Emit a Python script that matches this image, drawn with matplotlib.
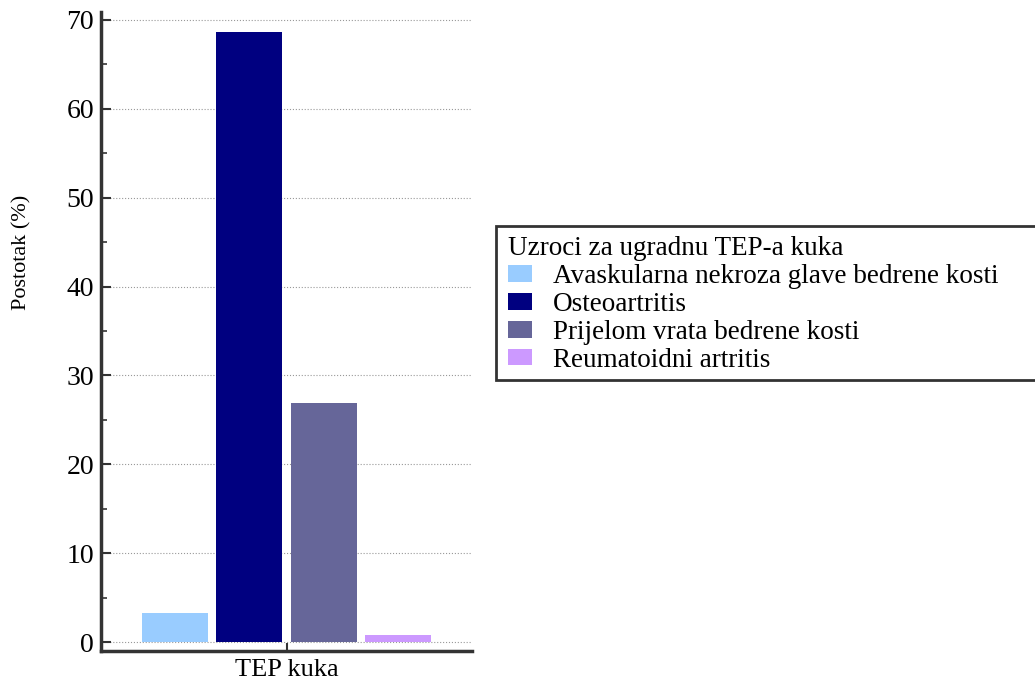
import matplotlib
matplotlib.use("Agg")
import matplotlib.pyplot as plt
from matplotlib.patches import Patch, Rectangle
from matplotlib.ticker import MultipleLocator

categories = ["Avaskularna nekroza glave bedrene kosti", "Osteoartritis",
              "Prijelom vrata bedrene kosti", "Reumatoidni artritis"]
values = [3.3, 68.7, 26.9, 0.8]
colors = ["#99CCFF", "#000080", "#666699", "#CC99FF"]
group_label = "TEP kuka"
legend_title = "Uzroci za ugradnu TEP-a kuka"
y_label = "Postotak (%)"

plt.rcParams['font.family'] = ['Liberation Serif', 'DejaVu Serif']

W, H = 1035, 682
fig = plt.figure(figsize=(W / 100, H / 100), dpi=100)
ax = fig.add_axes([101 / W, 1 - 651 / H, 371 / W, 639 / H])

pitch = 0.2
width = 0.178
n = len(values)
for i, (v, c, lab) in enumerate(zip(values, colors, categories)):
    x = (i - (n - 1) / 2) * pitch
    ax.bar(x, v, width=width, color=c, label=lab, zorder=3)

ax.set_xlim(-0.5, 0.5)
ax.set_ylim(-1.0, 70.9)
ax.set_xticks([0])
ax.set_xticklabels([group_label])
ax.yaxis.set_major_locator(MultipleLocator(10))
ax.yaxis.set_minor_locator(MultipleLocator(5))
ax.tick_params(axis='y', which='major', direction='in', length=7, width=1.5,
               labelsize=20, colors='#333333', labelcolor='black', pad=5)
ax.tick_params(axis='y', which='minor', direction='in', length=4, width=1.2,
               colors='#333333')
ax.tick_params(axis='x', which='major', direction='in', length=6, width=1.5,
               labelsize=19, colors='#333333', labelcolor='black', pad=6)
ax.grid(axis='y', which='major', linestyle=':', color='#999999', linewidth=0.8, zorder=0)

for s in ['top', 'right']:
    ax.spines[s].set_visible(False)
for s in ['left', 'bottom']:
    ax.spines[s].set_color('#333333')
    ax.spines[s].set_linewidth(2.5)

fig.text(22 / W, 1 - 252 / H, y_label, rotation=90, fontsize=16, va='center', ha='center')

# legend frame (extends past right edge like the reference)
fig.patches.append(Rectangle((496 / W, 1 - 380 / H), 560 / W, 154 / H,
                             transform=fig.transFigure, facecolor='white',
                             edgecolor='#333333', linewidth=2, zorder=1))

handles = [Patch(facecolor=c, edgecolor='none') for c in colors]
leg = fig.legend(handles, categories, title=legend_title, loc='upper left',
                 bbox_to_anchor=(508 / W, 1 - 236 / H), fontsize=19.5, title_fontsize=19.5,
                 frameon=False, borderpad=0, labelspacing=0.11,
                 handlelength=0.9, handleheight=0.55, handletextpad=0.75,
                 borderaxespad=0)
leg._legend_box.align = "left"
leg.set_zorder(2)

fig.savefig("out.png", dpi=100)
